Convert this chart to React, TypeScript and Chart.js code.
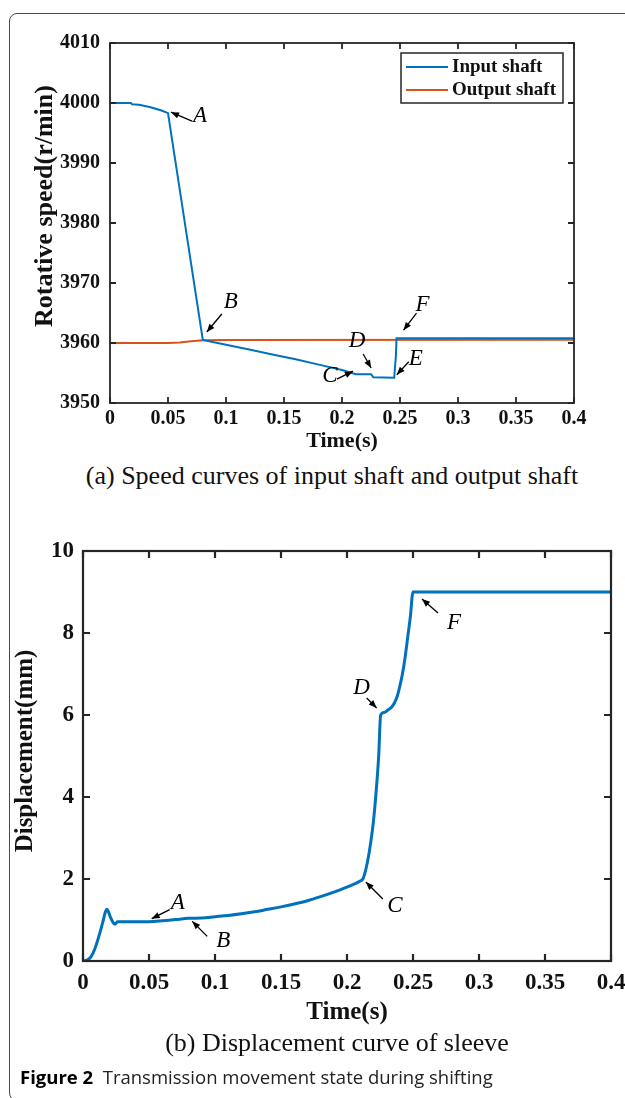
import React, { useEffect, useRef } from "react";
import { Chart, registerables } from "chart.js";

Chart.register(...registerables);

// ---------- DATA ----------
const timeInput = [0, 0.018, 0.019, 0.025, 0.03, 0.035, 0.04, 0.045, 0.05, 0.08, 0.1, 0.12, 0.14, 0.16, 0.18, 0.2, 0.212, 0.225, 0.227, 0.245, 0.2465, 0.247, 0.4];
const speedInput = [4000, 4000, 3999.8, 3999.7, 3999.5, 3999.3, 3999.0, 3998.7, 3998.3, 3960.5, 3959.7, 3958.9, 3958.1, 3957.3, 3956.4, 3955.5, 3954.8, 3954.8, 3954.3, 3954.2, 3958.0, 3960.8, 3960.8];

const timeOutput = [0, 0.05, 0.06, 0.07, 0.08, 0.1, 0.4];
const speedOutput = [3960, 3960, 3960.1, 3960.3, 3960.45, 3960.5, 3960.55];

const timeSleeve = [0, 0.003, 0.006, 0.009, 0.012, 0.015, 0.017, 0.018, 0.019, 0.021, 0.023, 0.024, 0.025, 0.026, 0.03, 0.04, 0.05, 0.06, 0.07, 0.08, 0.09, 0.1, 0.11, 0.12, 0.13, 0.14, 0.15, 0.16, 0.17, 0.18, 0.19, 0.2, 0.21, 0.212, 0.214, 0.216, 0.218, 0.22, 0.222, 0.224, 0.2255, 0.228, 0.231, 0.234, 0.236, 0.238, 0.24, 0.242, 0.244, 0.246, 0.248, 0.25, 0.4];
const dispSleeve = [0, 0.02, 0.1, 0.3, 0.6, 0.95, 1.2, 1.26, 1.22, 1.05, 0.93, 0.9, 0.92, 0.96, 0.96, 0.96, 0.96, 0.98, 1.01, 1.04, 1.05, 1.08, 1.11, 1.15, 1.2, 1.26, 1.32, 1.39, 1.47, 1.57, 1.68, 1.8, 1.95, 2.0, 2.2, 2.5, 2.9, 3.4, 4.1, 5.0, 6.0, 6.06, 6.12, 6.2, 6.3, 6.45, 6.7, 7.0, 7.4, 7.9, 8.4, 9.0, 9.0];

const timeTicks = [0, 0.05, 0.1, 0.15, 0.2, 0.25, 0.3, 0.35, 0.4];
const timeTickLabels = ["0", "0.05", "0.1", "0.15", "0.2", "0.25", "0.3", "0.35", "0.4"];
const speedTicks = [3950, 3960, 3970, 3980, 3990, 4000, 4010];
const dispTicks = [0, 2, 4, 6, 8, 10];

const speedMarks = [
  { label: "A", x: 0.05, y: 3998.3 },
  { label: "B", x: 0.08, y: 3960.5 },
  { label: "C", x: 0.212, y: 3954.8 },
  { label: "D", x: 0.226, y: 3954.5 },
  { label: "E", x: 0.2455, y: 3954.2 },
  { label: "F", x: 0.247, y: 3960.8 },
];
const sleeveMarks = [
  { label: "A", x: 0.049, y: 0.96 },
  { label: "B", x: 0.082, y: 1.04 },
  { label: "C", x: 0.212, y: 2.0 },
  { label: "D", x: 0.2255, y: 6.0 },
  { label: "F", x: 0.25, y: 9.0 },
];

// ---------- STYLE / LAYOUT ----------
const BLUE = "#0072BD";
const ORANGE = "#D95319";
const AXIS = "#262626";
const SERIF = '"Liberation Serif", "Times New Roman", serif';

// pixel offsets from the marked point: arrow end, arrow start, label centre
const speedMarkLayout = [
  { end: [3, -1], start: [24, 8], text: [32, 3] },
  { end: [4, -8], start: [19, -26], text: [28, -38] },
  { end: [-3, -3], start: [-19, 5], text: [-26, 2] },
  { end: [-1, -8], start: [-9, -22], text: [-15, -35] },
  { end: [2, -3], start: [14, -16], text: [21, -19] },
  { end: [7, -8], start: [20, -25], text: [26, -33] },
];
const sleeveMarkLayout = [
  { end: [4, -3], start: [22, -12], text: [30, -19] },
  { end: [1, 3], start: [16, 18], text: [32, 23] },
  { end: [3, 3], start: [20, 20], text: [32, 27] },
  { end: [-4, -7], start: [-14, -17], text: [-19, -27] },
  { end: [9, 7], start: [25, 21], text: [41, 31] },
];

const toPoints = (xs: number[], ys: number[]) => xs.map((x, i) => ({ x, y: ys[i] }));

// ---------- PLUGINS ----------
const boxPlugin = {
  id: "matlabBox",
  afterDatasetsDraw(chart: any, _a: any, opts: any) {
    const { ctx, chartArea: a, scales } = chart;
    ctx.save();
    ctx.strokeStyle = AXIS;
    ctx.lineWidth = opts.lineWidth;
    ctx.strokeRect(a.left, a.top, a.right - a.left, a.bottom - a.top);
    const len = opts.tickLength;
    ctx.beginPath();
    scales.x.ticks.forEach((t: any) => {
      const px = scales.x.getPixelForValue(t.value);
      ctx.moveTo(px, a.bottom);
      ctx.lineTo(px, a.bottom - len);
      ctx.moveTo(px, a.top);
      ctx.lineTo(px, a.top + len);
    });
    scales.y.ticks.forEach((t: any) => {
      const py = scales.y.getPixelForValue(t.value);
      ctx.moveTo(a.left, py);
      ctx.lineTo(a.left + len, py);
      ctx.moveTo(a.right, py);
      ctx.lineTo(a.right - len, py);
    });
    ctx.stroke();
    ctx.restore();
  },
};

const marksPlugin = {
  id: "marks",
  afterDatasetsDraw(chart: any, _a: any, opts: any) {
    const { ctx, scales } = chart;
    ctx.save();
    opts.items.forEach((m: any, i: number) => {
      const L = opts.layout[i];
      const px = scales.x.getPixelForValue(m.x);
      const py = scales.y.getPixelForValue(m.y);
      const ex = px + L.end[0], ey = py + L.end[1];
      const sx = px + L.start[0], sy = py + L.start[1];
      ctx.strokeStyle = "#000";
      ctx.fillStyle = "#000";
      ctx.lineWidth = 1.3;
      ctx.beginPath();
      ctx.moveTo(sx, sy);
      ctx.lineTo(ex, ey);
      ctx.stroke();
      const ang = Math.atan2(ey - sy, ex - sx);
      const hl = 8, hw = 3.2;
      ctx.beginPath();
      ctx.moveTo(ex, ey);
      ctx.lineTo(ex - hl * Math.cos(ang) + hw * Math.sin(ang), ey - hl * Math.sin(ang) - hw * Math.cos(ang));
      ctx.lineTo(ex - hl * Math.cos(ang) - hw * Math.sin(ang), ey - hl * Math.sin(ang) + hw * Math.cos(ang));
      ctx.closePath();
      ctx.fill();
      ctx.font = `italic ${opts.fontSize}px ${SERIF}`;
      ctx.textAlign = "center";
      ctx.textBaseline = "middle";
      ctx.fillText(m.label, px + L.text[0], py + L.text[1]);
    });
    ctx.restore();
  },
};

const legendPlugin = {
  id: "boxLegend",
  afterDraw(chart: any, _a: any, opts: any) {
    if (!opts.show) return;
    const { ctx, chartArea: a } = chart;
    const w = 162, h = 50;
    const left = a.right - 11 - w;
    const top = a.top + 10;
    ctx.save();
    ctx.fillStyle = "#fff";
    ctx.fillRect(left, top, w, h);
    ctx.strokeStyle = AXIS;
    ctx.lineWidth = 1.5;
    ctx.strokeRect(left, top, w, h);
    chart.data.datasets.forEach((ds: any, i: number) => {
      const y = top + 14 + i * 23;
      ctx.strokeStyle = ds.borderColor;
      ctx.lineWidth = 2;
      ctx.beginPath();
      ctx.moveTo(left + 5, y);
      ctx.lineTo(left + 47, y);
      ctx.stroke();
      ctx.fillStyle = "#111";
      ctx.font = `bold 19px ${SERIF}`;
      ctx.textAlign = "left";
      ctx.textBaseline = "middle";
      ctx.fillText(ds.label, left + 51, y);
    });
    ctx.restore();
  },
};

const yTitlePlugin = {
  id: "yTitle",
  afterDraw(chart: any, _a: any, opts: any) {
    const { ctx, chartArea: a } = chart;
    ctx.save();
    ctx.translate(a.left + opts.dx, (a.top + a.bottom) / 2 + opts.dy);
    ctx.rotate(-Math.PI / 2);
    ctx.font = `bold ${opts.size}px ${SERIF}`;
    ctx.fillStyle = "#111";
    ctx.textAlign = "center";
    ctx.textBaseline = "middle";
    ctx.fillText(opts.text, 0, 0);
    ctx.restore();
  },
};

// ---------- CONFIG ----------
function makeConfig(p: any) {
  const tickFont = { family: SERIF, size: p.tickSize, weight: "bold" as const };
  return {
    type: "line" as const,
    data: { datasets: p.datasets },
    options: {
      responsive: false,
      animation: false as const,
      layout: { padding: p.padding },
      plugins: {
        legend: { display: false },
        tooltip: { enabled: false },
        matlabBox: { lineWidth: p.boxWidth, tickLength: p.tickLength },
        marks: { items: p.marks, layout: p.markLayout, fontSize: 23 },
        boxLegend: { show: p.legend },
        yTitle: { text: p.yTitle, size: p.yTitleSize, dx: p.yTitleDx, dy: p.yTitleDy },
      },
      scales: {
        x: {
          type: "linear" as const,
          min: 0,
          max: 0.4,
          afterBuildTicks: (s: any) => {
            s.ticks = timeTicks.map((v) => ({ value: v }));
          },
          afterFit: (s: any) => {
            s.height = p.xHeight;
            s.paddingLeft = 0;
            s.paddingRight = 0;
          },
          grid: { display: false, drawTicks: false },
          border: { display: false },
          ticks: {
            autoSkip: false,
            maxRotation: 0,
            minRotation: 0,
            padding: p.xTickPad,
            color: "#111",
            font: tickFont,
            callback: (_v: any, i: number) => timeTickLabels[i],
          },
          title: {
            display: true,
            text: "Time(s)",
            color: "#111",
            font: { family: SERIF, size: p.xTitleSize, weight: "bold" as const, lineHeight: 1 },
            padding: { top: 0, bottom: p.xTitlePadBottom },
          },
        },
        y: {
          type: "linear" as const,
          min: p.yMin,
          max: p.yMax,
          afterBuildTicks: (s: any) => {
            s.ticks = p.yTicks.map((v: number) => ({ value: v }));
          },
          afterFit: (s: any) => {
            s.width = p.yWidth;
            s.paddingTop = 0;
            s.paddingBottom = 0;
          },
          grid: { display: false, drawTicks: false },
          border: { display: false },
          ticks: {
            autoSkip: false,
            padding: p.yTickPad,
            color: "#111",
            font: tickFont,
            callback: (v: any) => String(v),
          },
        },
      },
    },
    plugins: [boxPlugin, marksPlugin, legendPlugin, yTitlePlugin],
  };
}

function ChartCanvas({ top, height, params }: { top: number; height: number; params: any }) {
  const ref = useRef<HTMLCanvasElement>(null);
  useEffect(() => {
    const chart = new Chart(ref.current as HTMLCanvasElement, makeConfig(params) as any);
    return () => chart.destroy();
  }, []);
  return (
    <canvas
      ref={ref}
      width={625}
      height={height}
      style={{ position: "absolute", left: 0, top, width: 625, height }}
    />
  );
}

const speedParams = {
  datasets: [
    { label: "Input shaft", data: toPoints(timeInput, speedInput), borderColor: BLUE, borderWidth: 2, pointRadius: 0, tension: 0, fill: false },
    { label: "Output shaft", data: toPoints(timeOutput, speedOutput), borderColor: ORANGE, borderWidth: 2, pointRadius: 0, tension: 0, fill: false },
  ],
  padding: { left: 0, right: 51, top: 43, bottom: 0 },
  yMin: 3950,
  yMax: 4010,
  yTicks: speedTicks,
  yWidth: 110,
  xHeight: 57,
  tickSize: 20,
  xTickPad: 4,
  yTickPad: 10,
  xTitleSize: 22,
  xTitlePadBottom: 8,
  boxWidth: 1.8,
  tickLength: 6,
  marks: speedMarks,
  markLayout: speedMarkLayout,
  legend: true,
  yTitle: "Rotative speed(r/min)",
  yTitleSize: 26,
  yTitleDx: -65,
  yTitleDy: -17,
};

const sleeveParams = {
  datasets: [
    { label: "Sleeve", data: toPoints(timeSleeve, dispSleeve), borderColor: BLUE, borderWidth: 3, pointRadius: 0, cubicInterpolationMode: "monotone", fill: false },
  ],
  padding: { left: 0, right: 14, top: 51, bottom: 0 },
  yMin: 0,
  yMax: 10,
  yTicks: dispTicks,
  yWidth: 83,
  xHeight: 69,
  tickSize: 23,
  xTickPad: 8,
  yTickPad: 9,
  xTitleSize: 25,
  xTitlePadBottom: 5,
  boxWidth: 2.2,
  tickLength: 7,
  marks: sleeveMarks,
  markLayout: sleeveMarkLayout,
  legend: false,
  yTitle: "Displacement(mm)",
  yTitleSize: 25,
  yTitleDx: -57,
  yTitleDy: -5,
};

export default function App() {
  return (
    <div style={{ position: "absolute", left: 0, top: 0, width: 625, height: 1098, background: "#fff", overflow: "hidden" }}>
      <div
        style={{
          position: "absolute",
          left: 9,
          top: 13,
          width: 680,
          height: 1088,
          border: "1.2px solid #4a4a4a",
          borderRadius: 8,
          boxSizing: "border-box",
        }}
      />
      <ChartCanvas top={0} height={460} params={speedParams} />
      <div
        style={{
          position: "absolute",
          left: 0,
          width: 664,
          top: 461,
          lineHeight: "30px",
          fontSize: 26,
          fontFamily: SERIF,
          color: "#111",
          textAlign: "center",
          whiteSpace: "nowrap",
        }}
      >
        (a) Speed curves of input shaft and output shaft
      </div>
      <ChartCanvas top={500} height={530} params={sleeveParams} />
      <div
        style={{
          position: "absolute",
          left: 0,
          width: 674,
          top: 1028,
          lineHeight: "30px",
          fontSize: 26,
          fontFamily: SERIF,
          color: "#111",
          textAlign: "center",
          whiteSpace: "nowrap",
        }}
      >
        (b) Displacement curve of sleeve
      </div>
      <div
        style={{
          position: "absolute",
          left: 20,
          top: 1065,
          lineHeight: "24px",
          fontSize: 18.5,
          fontFamily: '"Open Sans", "Noto Sans", sans-serif',
          color: "#222",
          whiteSpace: "nowrap",
        }}
      >
        <span style={{ fontWeight: 700, color: "#000" }}>Figure 2</span>
        <span style={{ whiteSpace: "pre" }}>  Transmission movement state during shifting</span>
      </div>
    </div>
  );
}
